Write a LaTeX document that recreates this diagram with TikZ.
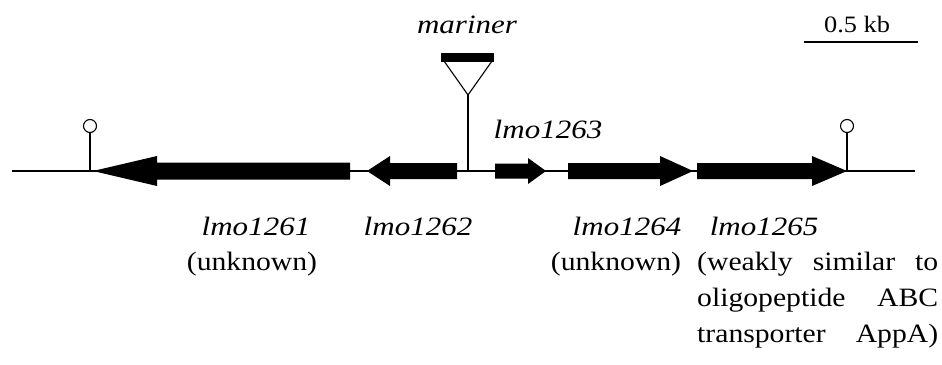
\documentclass[tikz,border=0pt]{standalone}
\usepackage{fontspec}
\setmainfont{Liberation Serif}
% slightly widened Times-like faces for the labels
\newfontfamily\notefont{Liberation Serif}[FakeStretch=1.12]
\newfontfamily\genefont{Liberation Serif}[FakeStretch=1.17]
\begin{document}
\begin{tikzpicture}[x=1pt,y=-1pt,
  backbone/.style={line width=1.6pt},
  gene/.style={fill=black},
  stem/.style={line width=1.1pt},
  genelabel/.style={font=\genefont\fontsize{26.5}{30}\selectfont\itshape, inner sep=0pt, anchor=base},
  note/.style={font=\notefont\fontsize{26.5}{30}\selectfont, inner sep=0pt, anchor=base},
  termin/.style={circle, draw, line width=1.1pt, minimum size=13pt, inner sep=0pt},
]
\useasboundingbox (0,0) rectangle (942,364);

% DNA backbone
\coordinate (L) at (12,171);
\coordinate (R) at (915,171);
\draw[backbone] (L) -- (R);

% genes pointing left
\fill[gene] (93,171) -- (157,156) -- (157,162.5) -- (350,162.5) -- (350,179.5) -- (157,179.5) -- (157,186) -- cycle;
\fill[gene] (367,171) -- (390,156) -- (390,163) -- (457,163) -- (457,179) -- (390,179) -- (390,186) -- cycle;
% genes pointing right
\fill[gene] (546,171) -- (528,158) -- (528,163.5) -- (495,163.5) -- (495,178.5) -- (528,178.5) -- (528,184) -- cycle;
\fill[gene] (693,171) -- (660,156) -- (660,163) -- (568,163) -- (568,179) -- (660,179) -- (660,186) -- cycle;
\fill[gene] (847,171) -- (812,156) -- (812,163) -- (697,163) -- (697,179) -- (812,179) -- (812,186) -- cycle;

% transcription terminators
\node[termin] (t1) at (90,126) {};
\node[termin] (t2) at (847,126) {};
\coordinate (t1b) at (90,171);
\coordinate (t2b) at (847,171);
\draw[stem] (t1b) -- (t1.south);
\draw[stem] (t2b) -- (t2.south);

% mariner insertion site
\coordinate (ins) at (468,171);
\coordinate (tip) at (468,95);
\draw[stem] (ins) -- (tip);
\draw[line width=1.1pt, line join=miter] (444,61) -- (tip) -- (492,61);
\fill (441,53) rectangle (494,62);
\node[genelabel] (mar) at (467,33) {mariner};

% scale bar
\coordinate (s1) at (804,42);
\coordinate (s2) at (918,42);
\draw[line width=2.4pt] (s1) -- (s2);
\node[note, font=\notefont\fontsize{23.5}{27}\selectfont] (kb) at (857,32) {0.5 kb};

% gene names
\node[genelabel] (n3) at (548,138) {lmo1263};
\node[genelabel] (n1) at (256,235) {lmo1261};
\node[genelabel] (n2) at (418,235) {lmo1262};
\node[genelabel] (n4) at (627,235) {lmo1264};
\node[genelabel] (n5) at (764,235) {lmo1265};

% annotations
\node[note] (u1) at (252,270) {(unknown)};
\node[note] (u4) at (616,270) {(unknown)};
\node[note, anchor=base west] (d1) at (697,270) {\makebox[241pt][s]{(weakly similar to}};
\node[note, anchor=base west] (d2) at (697,306) {\makebox[241pt][s]{oligopeptide ABC}};
\node[note, anchor=base west] (d3) at (697,342) {\makebox[241pt][s]{transporter AppA)}};
\end{tikzpicture}
\end{document}
